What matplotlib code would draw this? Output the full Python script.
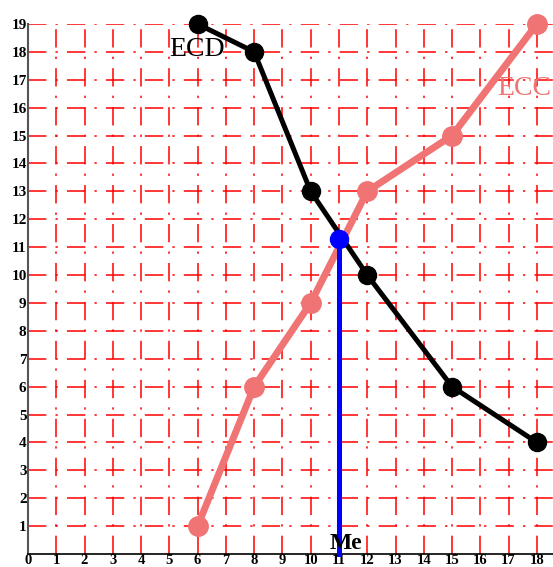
import matplotlib
matplotlib.use("Agg")
import matplotlib.pyplot as plt

#Data
x_vals = [6, 8, 10, 12, 15, 18]
ecd = [19, 18, 13, 10, 6, 4]
ecc = [1, 6, 9, 13, 15, 19]
me_x = 11
me_y = 11.3
x_ticks = list(range(0, 19))
y_ticks = list(range(1, 20))

#Figure setup
fig = plt.figure(figsize=(5.53, 5.67), dpi=100)
ax = fig.add_axes([28 / 553, 13 / 567, 525 / 553, 530 / 567])
ax.set_xlim(0, 525 / 28.27)
ax.set_ylim(0, 19)

#Red dash-dot grid
grid_style = dict(color='#ff0000', linewidth=1.1, linestyle=(0, (12, 6, 1.5, 6)), zorder=0)
for xv in x_ticks[1:]:
    ax.axvline(xv, **grid_style)
for yv in y_ticks:
    ax.axhline(yv, **grid_style)

#Curves
ax.plot(x_vals, ecc, color='#f07474', linewidth=5, marker='o', markersize=14,
        solid_capstyle='round', zorder=3, clip_on=False)
ax.plot(x_vals, ecd, color='black', linewidth=3.6, marker='o', markersize=13,
        zorder=4, clip_on=False)
ax.plot([me_x, me_x], [0, me_y], color='#0000ff', linewidth=3.6, zorder=5, clip_on=False)
ax.plot([me_x], [me_y], color='#0000ff', marker='o', markersize=13, zorder=6, clip_on=False)

#Labels
ax.text(5.0, 18.1, 'ECD', fontsize=20, family='Liberation Serif', color='black',
        ha='left', va='center', zorder=7)
ax.text(16.6, 16.7, 'ECC', fontsize=20, family='Liberation Serif', color='#f07474',
        ha='left', va='center', zorder=7, clip_on=False)
ax.text(me_x + 0.25, 0.0, 'Me', fontsize=17, family='Liberation Serif', fontweight='bold',
        color='black', ha='center', va='bottom', zorder=7)

#Axes styling
ax.set_xticks(x_ticks)
ax.set_yticks(y_ticks)
ax.set_xticklabels([str(v) for v in x_ticks], fontsize=10.5, family='Liberation Serif', fontweight='bold')
ax.set_yticklabels([str(v) for v in y_ticks], fontsize=11, family='Liberation Serif', fontweight='bold')
ax.tick_params(axis='both', length=0)
ax.tick_params(axis='x', pad=0)
ax.tick_params(axis='y', pad=1)
ax.spines['top'].set_visible(False)
ax.spines['right'].set_visible(False)
ax.spines['left'].set_color('#555555')
ax.spines['left'].set_linewidth(1.5)
ax.spines['bottom'].set_color('black')
ax.spines['bottom'].set_linewidth(1.2)

fig.savefig('out.png', dpi=100)
